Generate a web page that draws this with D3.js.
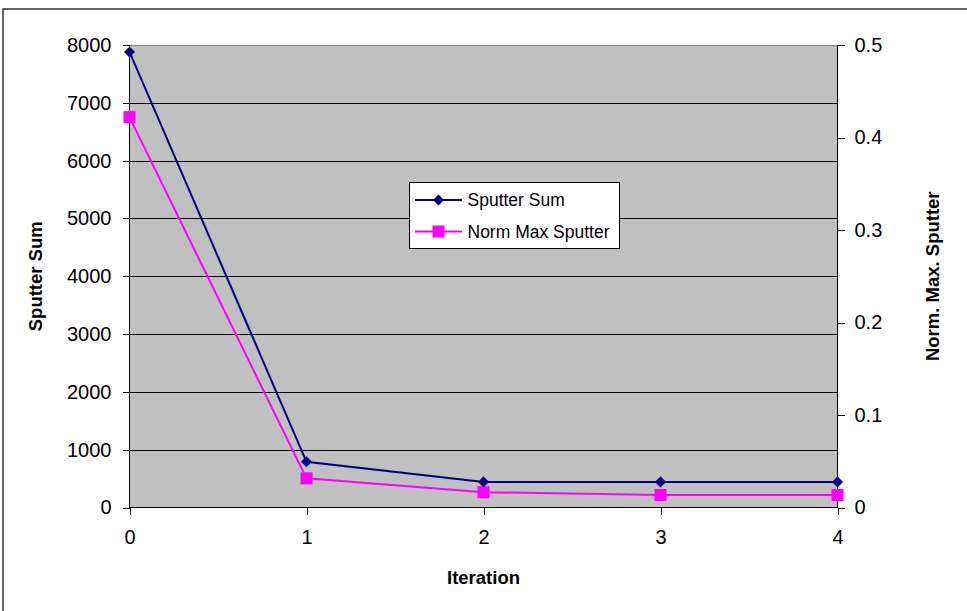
<!DOCTYPE html>
<html lang="en">
<head>
    <meta charset="UTF-8">
    <title>Sputter Sum vs Iteration</title>
    <style>
        body, html { margin: 0; padding: 0; background: #fff; overflow: hidden; }
        svg { display: block; font-family: Arial, "Liberation Sans", sans-serif; }
        .axis text { font-size: 20px; fill: #000; }
        .axis path, .axis line { stroke: #000; shape-rendering: crispEdges; }
        .title { font-size: 18.5px; font-weight: bold; }
        .legend text { font-size: 17.5px; }
    </style>
</head>
<body>
    <svg width="967" height="611"></svg>
    <script src="https://d3js.org/d3.v7.min.js"></script>
    <script>
        const iterations = [0, 1, 2, 3, 4];
        const sputterSum = [7880, 790, 443, 443, 443];
        const normMaxSputter = [0.422, 0.0315, 0.0165, 0.0135, 0.0135];
        const leftTicks = [0, 1000, 2000, 3000, 4000, 5000, 6000, 7000, 8000];
        const rightTicks = [0, 0.1, 0.2, 0.3, 0.4, 0.5];

        const svg = d3.select("svg");
        const plot = { left: 129.5, right: 837.5, top: 45, bottom: 507.5 };

        // chart frame
        svg.append("rect")
            .attr("x", 3).attr("y", 9)
            .attr("width", 970).attr("height", 610)
            .attr("fill", "#fff")
            .attr("stroke", "#333").attr("stroke-width", 1.5);

        const x = d3.scaleLinear().domain([0, 4]).range([plot.left, plot.right]);
        const yL = d3.scaleLinear().domain([0, 8000]).range([plot.bottom, plot.top]);
        const yR = d3.scaleLinear().domain([0, 0.5]).range([plot.bottom, plot.top]);

        // plot area
        svg.append("rect")
            .attr("x", plot.left).attr("y", plot.top)
            .attr("width", plot.right - plot.left).attr("height", plot.bottom - plot.top)
            .attr("fill", "#c0c0c0");

        // gridlines
        svg.append("g")
            .selectAll("line")
            .data(leftTicks.slice(1))
            .enter().append("line")
            .attr("x1", plot.left).attr("x2", plot.right)
            .attr("y1", d => Math.round(yL(d)) + 0.5).attr("y2", d => Math.round(yL(d)) + 0.5)
            .attr("stroke", d => d === 8000 ? "#808080" : "#000")
            .attr("stroke-width", 1);

        // axes
        svg.append("g")
            .attr("class", "axis")
            .attr("transform", `translate(${plot.left},0)`)
            .call(d3.axisLeft(yL).tickValues(leftTicks).tickSize(7).tickPadding(11).tickFormat(d3.format("d")))
            .call(g => g.select(".domain").remove())
            .call(g => g.append("line").attr("y1", plot.top).attr("y2", plot.bottom).attr("stroke", "#000"));

        svg.append("g")
            .attr("class", "axis")
            .attr("transform", `translate(${plot.right},0)`)
            .call(d3.axisRight(yR).tickValues(rightTicks).tickSize(7).tickPadding(10).tickFormat(d => d === 0 ? "0" : d3.format(".1f")(d)))
            .call(g => g.select(".domain").remove())
            .call(g => g.append("line").attr("y1", plot.top).attr("y2", plot.bottom).attr("stroke", "#000"));

        svg.append("g")
            .attr("class", "axis")
            .attr("transform", `translate(0,${plot.bottom})`)
            .call(d3.axisBottom(x).tickValues(iterations).tickSize(7).tickPadding(15).tickFormat(d3.format("d")))
            .call(g => g.select(".domain").remove())
            .call(g => g.append("line").attr("x1", plot.left).attr("x2", plot.right).attr("stroke", "#000"));

        // series
        const lineL = d3.line().x((d, i) => x(iterations[i])).y(d => yL(d));
        const lineR = d3.line().x((d, i) => x(iterations[i])).y(d => yR(d));

        svg.append("path").datum(normMaxSputter)
            .attr("d", lineR).attr("fill", "none")
            .attr("stroke", "#ff00ff").attr("stroke-width", 2);
        svg.append("path").datum(sputterSum)
            .attr("d", lineL).attr("fill", "none")
            .attr("stroke", "#000080").attr("stroke-width", 2);

        const diamond = d3.symbol().type(d3.symbolDiamond2).size(78);

        svg.append("g").selectAll("rect")
            .data(normMaxSputter)
            .enter().append("rect")
            .attr("x", (d, i) => x(iterations[i]) - 6)
            .attr("y", d => yR(d) - 6)
            .attr("width", 12).attr("height", 12)
            .attr("fill", "#ff00ff");

        svg.append("g").selectAll("path")
            .data(sputterSum)
            .enter().append("path")
            .attr("d", diamond)
            .attr("transform", (d, i) => `translate(${x(iterations[i])},${yL(d)})`)
            .attr("fill", "#000080");

        // axis titles
        svg.append("text").attr("class", "title")
            .attr("x", x(2)).attr("y", 584)
            .attr("text-anchor", "middle").text("Iteration");
        svg.append("text").attr("class", "title")
            .attr("transform", `translate(42,${(plot.top + plot.bottom) / 2}) rotate(-90)`)
            .attr("text-anchor", "middle").text("Sputter Sum");
        svg.append("text").attr("class", "title")
            .attr("transform", `translate(939,${(plot.top + plot.bottom) / 2}) rotate(-90)`)
            .attr("text-anchor", "middle").text("Norm. Max. Sputter");

        // legend
        const legend = svg.append("g").attr("class", "legend");
        legend.append("rect")
            .attr("x", 409.5).attr("y", 182.5)
            .attr("width", 210).attr("height", 66)
            .attr("fill", "#fff").attr("stroke", "#000").attr("stroke-width", 1);
        const legendItems = [
            { name: "Sputter Sum", color: "#000080", shape: "diamond", y: 200 },
            { name: "Norm Max Sputter", color: "#ff00ff", shape: "square", y: 231.5 }
        ];
        legendItems.forEach(item => {
            legend.append("line")
                .attr("x1", 415).attr("x2", 462)
                .attr("y1", item.y).attr("y2", item.y)
                .attr("stroke", item.color).attr("stroke-width", 2);
            if (item.shape === "diamond") {
                legend.append("path").attr("d", diamond)
                    .attr("transform", `translate(438.5,${item.y})`)
                    .attr("fill", item.color);
            } else {
                legend.append("rect")
                    .attr("x", 432.5).attr("y", item.y - 6)
                    .attr("width", 12).attr("height", 12)
                    .attr("fill", item.color);
            }
            legend.append("text")
                .attr("x", 467.5).attr("y", item.y)
                .attr("dy", "0.36em")
                .text(item.name);
        });
    </script>
</body>
</html>
